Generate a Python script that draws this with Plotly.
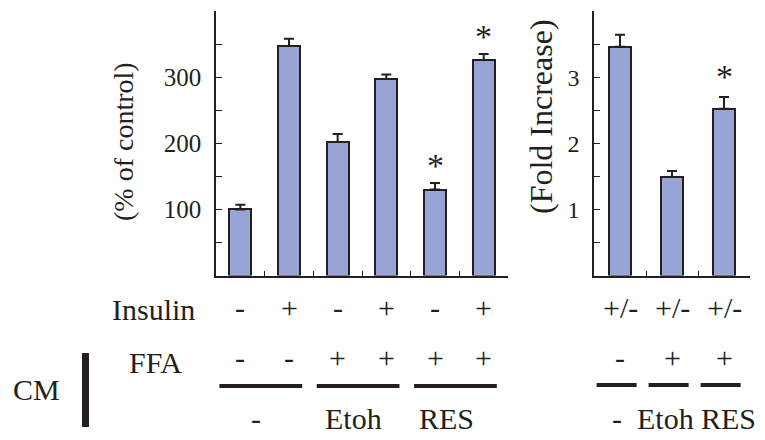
import plotly.graph_objects as go

# ---------------- data ----------------
left_cats = [0, 1, 2, 3, 4, 5]
left_vals = [100, 347, 202, 297, 130, 326]
left_err = [7, 11, 12, 7, 10, 9]
left_star = [False, False, False, False, True, True]
insulin_left = ["-", "+", "-", "+", "-", "+"]
ffa_left = ["-", "-", "+", "+", "+", "+"]
cm_left_groups = [("-", 0, 1), ("Etoh", 2, 3), ("RES", 4, 5)]

right_cats = [0, 1, 2]
right_vals = [3.46, 1.49, 2.52]
right_err = [0.18, 0.09, 0.18]
right_star = [False, False, True]
insulin_right = ["+/-", "+/-", "+/-"]
ffa_right = ["-", "+", "+"]
cm_right_groups = [("-", 0, 0), ("Etoh", 1, 1), ("RES", 2, 2)]

left_ticks = [50, 100, 150, 200, 250, 300, 350, 400]
left_ticklabels = ["", "100", "", "200", "", "300", "", ""]
right_ticks = [0.5, 1, 1.5, 2, 2.5, 3, 3.5, 4]
right_ticklabels = ["", "1", "", "2", "", "3", "", ""]

left_title = "(% of control)"
right_title = "(Fold Increase)"

# ---------------- style ----------------
W, H = 765, 440
FONT = '"Liberation Serif", "Times New Roman", Times, "DejaVu Serif", serif'
INK = "#231F20"
BAR = "#98A4D6"
left_label_shift = [-0.17, -0.17, -0.27]
right_label_shift = [-0.06, -0.12, 0.08]


def px(x):
    return x / W


def py(y):
    return 1 - y / H


fig = go.Figure()

err_style = dict(type="data", symmetric=False, color=INK, thickness=2, width=5)

fig.add_trace(go.Bar(
    x=left_cats, y=left_vals, width=0.45,
    marker=dict(color=BAR, line=dict(color=INK, width=2)),
    error_y=dict(array=left_err, arrayminus=[0] * len(left_err), **err_style),
    xaxis="x", yaxis="y", showlegend=False, hoverinfo="skip"))

fig.add_trace(go.Bar(
    x=right_cats, y=right_vals, width=0.42,
    marker=dict(color=BAR, line=dict(color=INK, width=2)),
    error_y=dict(array=right_err, arrayminus=[0] * len(right_err), **err_style),
    xaxis="x2", yaxis="y2", showlegend=False, hoverinfo="skip"))

ydom = [py(275.5), py(11)]
axis_common = dict(showline=True, linecolor=INK, linewidth=1.5, showgrid=False,
                   zeroline=False, ticks="inside", tickcolor=INK, tickwidth=1.2)

fig.update_layout(
    width=W, height=H,
    margin=dict(l=0, r=0, t=0, b=0),
    paper_bgcolor="white", plot_bgcolor="white",
    font=dict(family=FONT, color=INK),
    bargap=0,
    xaxis=dict(domain=[px(216), px(508)], range=[-0.5, 5.5], anchor="y",
               tickvals=[0.5, 1.5, 2.5, 3.5, 4.5, 5.5], ticklen=5,
               showticklabels=False, **axis_common),
    yaxis=dict(domain=ydom, range=[0, 400], anchor="x",
               tickvals=left_ticks, ticktext=left_ticklabels, ticklen=6,
               tickfont=dict(size=25, family=FONT, color=INK),
               ticklabelstandoff=8, **axis_common),
    xaxis2=dict(domain=[px(594), px(750)], range=[-0.5, 2.5], anchor="y2",
                tickvals=[0.5, 1.5, 2.5], ticklen=5,
                showticklabels=False, **axis_common),
    yaxis2=dict(domain=ydom, range=[0, 4], anchor="x2",
                tickvals=right_ticks, ticktext=right_ticklabels, ticklen=6,
                tickfont=dict(size=24, family=FONT, color=INK),
                ticklabelstandoff=8, **axis_common),
)

ann = []
shapes = []

def txt(x, y, s, size=30, xref="paper", angle=0):
    ann.append(dict(x=x, y=y, xref=xref, yref="paper", text=s, showarrow=False,
                    xanchor="center", yanchor="middle", textangle=angle,
                    font=dict(family=FONT, size=size, color=INK)))

# axis titles
txt(px(123), py(142), left_title, size=28, angle=-90)
txt(px(541), py(117), right_title, size=32, angle=-90)

# stars
for c, v, e, s in zip(left_cats, left_vals, left_err, left_star):
    if s:
        ann.append(dict(x=c, y=v + e, xref="x", yref="y", text="*", showarrow=False,
                        yanchor="bottom", yshift=-3, font=dict(family=FONT, size=34, color=INK)))
for c, v, e, s in zip(right_cats, right_vals, right_err, right_star):
    if s:
        ann.append(dict(x=c, y=v + e, xref="x2", yref="y2", text="*", showarrow=False,
                        yanchor="bottom", yshift=0, font=dict(family=FONT, size=34, color=INK)))

# row labels
txt(px(153.5), py(309), "Insulin")
txt(px(155.5), py(362), "FFA")
txt(px(36), py(389), "CM")
shapes.append(dict(type="rect", xref="paper", yref="paper",
                   x0=px(82), x1=px(89), y0=py(427), y1=py(353),
                   fillcolor=INK, line=dict(width=0)))

for c, s in zip(left_cats, insulin_left):
    txt(c, py(307), s, xref="x")
for c, s in zip(left_cats, ffa_left):
    txt(c, py(357), s, xref="x")
for c, s in zip(right_cats, insulin_right):
    txt(c, py(307), s, xref="x2")
for c, s in zip(right_cats, ffa_right):
    txt(c, py(357), s, xref="x2")

for (name, a, b), sh in zip(cm_left_groups, left_label_shift):
    shapes.append(dict(type="line", xref="x", yref="paper", x0=a - 0.43, x1=b + 0.27,
                       y0=py(386), y1=py(386), line=dict(color=INK, width=4)))
    txt((a + b) / 2 + sh, py(418), name, xref="x")
for (name, a, b), sh in zip(cm_right_groups, right_label_shift):
    shapes.append(dict(type="line", xref="x2", yref="paper", x0=a - 0.45, x1=b + 0.32,
                       y0=py(385), y1=py(385), line=dict(color=INK, width=4)))
    txt(a + sh, py(418), name, xref="x2")

fig.update_layout(annotations=ann, shapes=shapes)
fig.write_html("out.html", config={"displayModeBar": False},
               post_script="document.body.style.margin='0px';")
